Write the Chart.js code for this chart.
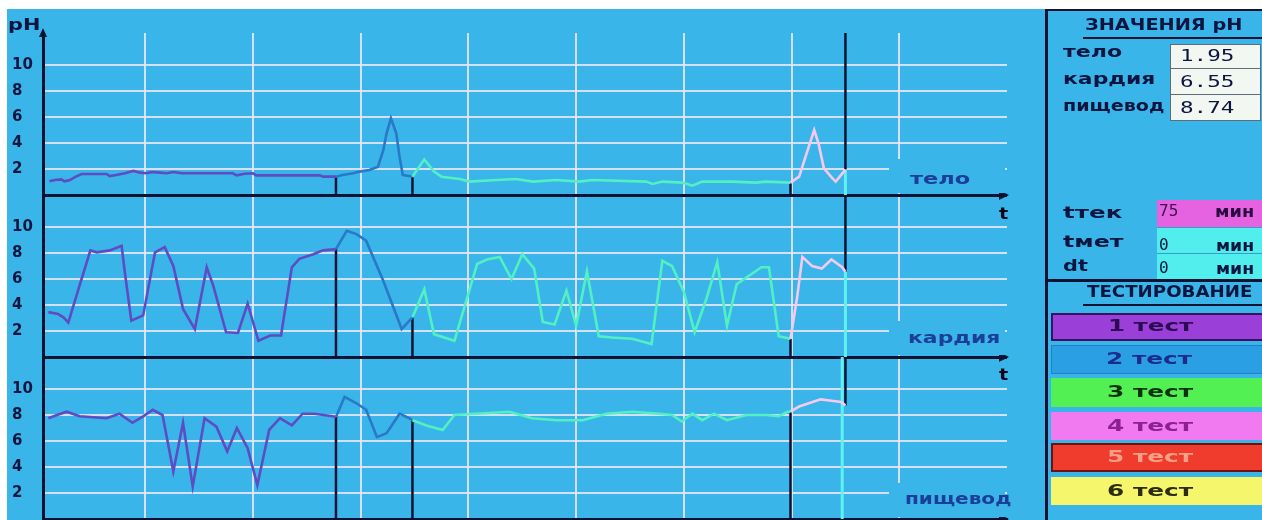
<!DOCTYPE html>
<html lang="ru">
<head>
<meta charset="utf-8">
<title>pH-мониторинг</title>
<script src="https://cdn.jsdelivr.net/npm/chart.js@4.4.1/dist/chart.umd.min.js"></script>
<style>
  html, body { margin:0; padding:0; width:1262px; height:520px; overflow:hidden; background:#ffffff; }
  #screen { position:absolute; left:7px; top:9px; width:1255px; height:511px; background:#3ab5e9; }
  #plot { position:absolute; left:0; top:0; }
  .lbl { position:absolute; font-family:'DejaVu Sans', sans-serif; font-weight:bold; font-size:15px;
         line-height:16px; white-space:nowrap; color:#0c1440; transform-origin:0 50%; }
  .big { font-size:16px; }
  .mono { font-family:'DejaVu Sans Mono', monospace; font-weight:normal; font-size:16px; }
  .chan { color:#1c3d98; }
  .cover { position:absolute; left:889px; width:116px; background:#3ab5e9; }
  .rule { position:absolute; background:#0b1232; }
  .box { position:absolute; box-sizing:border-box; }
  .btn { position:absolute; left:1051px; width:215px; box-sizing:border-box; }
</style>
</head>
<body>
<div id="screen"></div>
<canvas id="plot" width="1262" height="520"></canvas>

<!-- channel captions sit on a patch of screen colour that hides the grid under them -->
<div class="cover" id="coverTelo"></div>
<div class="cover" id="coverKardia"></div>
<div class="cover" id="coverPish"></div>

<div class="lbl" style="left:8px; top:17px;" data-w="32">pH</div>
<div class="lbl" style="left:999px; top:206px; color:#05081a;" data-w="9">t</div>
<div class="lbl" style="left:999px; top:367px; color:#05081a;" data-w="9">t</div>
<div class="lbl chan" style="left:910px; top:171px;" data-w="60">тело</div>
<div class="lbl chan" style="left:908px; top:330px;" data-w="92">кардия</div>
<div class="lbl chan" style="left:905px; top:491px;" data-w="107">пищевод</div>

<!-- side panel -->
<div class="rule" style="left:1045px; top:9px; width:3px; height:511px;"></div>
<div class="rule" style="left:1045px; top:9px; width:217px; height:2px;"></div>
<div class="lbl big" style="left:1085px; top:17px;" data-w="158">ЗНАЧЕНИЯ pH</div>
<div class="rule" style="left:1083px; top:37px; width:179px; height:2px;"></div>

<div class="lbl" style="left:1063px; top:44px;" data-w="59">тело</div>
<div class="lbl" style="left:1063px; top:71px;" data-w="92">кардия</div>
<div class="lbl" style="left:1063px; top:98px;" data-w="102">пищевод</div>
<div class="box" style="left:1170px; top:44px; width:91px; height:25px; background:#f3f7f2; border:1.5px solid #5d6d78;"></div>
<div class="box" style="left:1170px; top:68px; width:91px; height:27px; background:#f3f7f2; border:1.5px solid #5d6d78;"></div>
<div class="box" style="left:1170px; top:94px; width:91px; height:27px; background:#f3f7f2; border:1.5px solid #5d6d78;"></div>
<div class="lbl mono" id="valTelo" style="left:1180px; top:48px;" data-w="55"></div>
<div class="lbl mono" id="valKardia" style="left:1180px; top:74px;" data-w="55"></div>
<div class="lbl mono" id="valPish" style="left:1180px; top:100px;" data-w="55"></div>

<div class="box" style="left:1157px; top:200px; width:105px; height:27px; background:#e563e0;"></div>
<div class="box" style="left:1157px; top:227px; width:105px; height:26px; background:#52eeee; border-top:1px solid #3a9ccc;"></div>
<div class="box" style="left:1157px; top:253px; width:105px; height:26px; background:#52eeee; border-top:1px solid #3a9ccc;"></div>
<div class="lbl" style="left:1063px; top:205px;" data-w="59">tтек</div>
<div class="lbl" style="left:1063px; top:234px;" data-w="60">tмет</div>
<div class="lbl" style="left:1063px; top:258px;" data-w="25">dt</div>
<div class="lbl mono" id="valTime" style="left:1159px; top:203px; color:#3a1050;" data-w="19"></div>
<div class="lbl" style="left:1215px; top:204px; color:#2a0a40;" data-w="39">мин</div>
<div class="lbl mono" style="left:1159px; top:237px;" data-w="10">0</div>
<div class="lbl" style="left:1216px; top:238px;" data-w="38">мин</div>
<div class="lbl mono" style="left:1159px; top:260px;" data-w="10">0</div>
<div class="lbl" style="left:1216px; top:261px;" data-w="38">мин</div>

<div class="rule" style="left:1046px; top:279px; width:216px; height:3px;"></div>
<div class="lbl big" style="left:1087px; top:284px;" data-w="166">ТЕСТИРОВАНИЕ</div>
<div class="rule" style="left:1083px; top:304px; width:179px; height:2px;"></div>

<div class="btn" style="top:313px; height:28px; background:#9a3fd8; border:2px solid #3a1060;"></div>
<div class="btn" style="top:345px; height:29px; background:#2b9fe4; border:1px solid #2580c0;"></div>
<div class="btn" style="top:378px; height:29px; background:#52f052;"></div>
<div class="btn" style="top:412px; height:28px; background:#f27af0;"></div>
<div class="btn" style="top:443px; height:29px; background:#f03c2c; border:2px solid #701010;"></div>
<div class="btn" style="top:477px; height:28px; background:#f6f66c;"></div>
<div class="lbl" style="left:1108px; top:318px; color:#2a0c52;" data-w="85">1 тест</div>
<div class="lbl" style="left:1106px; top:351px; color:#1c2c8c;" data-w="86">2 тест</div>
<div class="lbl" style="left:1107px; top:384px; color:#0c300c;" data-w="86">3 тест</div>
<div class="lbl" style="left:1107px; top:418px; color:#8c2090;" data-w="86">4 тест</div>
<div class="lbl" style="left:1107px; top:449px; color:#f7a088;" data-w="86">5 тест</div>
<div class="lbl" style="left:1107px; top:483px; color:#2c2c12;" data-w="86">6 тест</div>

<script>
// ---- recording: minutes since start and pH for each probe ----
const elapsedMin = 75;                       // current time cursor
const testEnds = [27.7, 34.8, 69.9];         // ends of tests 1..3
const testLineColors = ['#5e4cc2', '#2a78c8', '#52f0c2', '#f5c9f1'];
const phTicks = [0, 2, 4, 6, 8, 10];
const gridMinutes = [10, 20, 30, 40, 50, 60, 70, 80];

const teloMin = [1.1, 1.6, 2.2, 2.5, 3.0, 3.5, 4.1, 6.4, 6.7, 7.3, 8.1, 8.9, 9.5, 10.1, 10.6, 11.3, 12.0, 12.6, 13.4, 15.1, 18.1, 18.5, 19.2, 20.0, 20.3, 26.2, 26.5, 27.7,
  28.3, 29.3, 29.9, 30.8, 31.6, 32.1, 32.4, 32.8, 33.3, 33.6, 33.9, 34.8,
  35.9, 36.8, 37.5, 39.2, 40.1, 42.6, 44.4, 46.0, 48.1, 50.3, 51.5, 56.5, 57.1, 58.0, 59.9, 60.8, 61.7, 64.5, 66.7, 67.6, 69.9,
  70.7, 71.3, 72.1, 72.5, 73.0, 73.8, 74.1, 75];
const teloPH = [1.05, 1.15, 1.2, 1.05, 1.15, 1.4, 1.62, 1.62, 1.46, 1.54, 1.67, 1.85, 1.72, 1.67, 1.77, 1.72, 1.67, 1.77, 1.67, 1.67, 1.67, 1.51, 1.64, 1.67, 1.51, 1.51, 1.41, 1.41,
  1.54, 1.67, 1.8, 1.92, 2.18, 3.46, 4.74, 5.9, 4.74, 2.95, 1.54, 1.41,
  2.74, 1.8, 1.41, 1.23, 1.03, 1.15, 1.23, 1.03, 1.15, 1.03, 1.15, 1.03, 0.85, 1.03, 0.95, 0.72, 1.03, 1.03, 0.95, 1.03, 0.95,
  1.41, 2.95, 5.0, 3.97, 2.05, 1.28, 1.03, 1.95];

const kardiaMin = [1.0, 1.9, 2.4, 2.85, 3.9, 4.9, 5.5, 6.7, 7.8, 8.1, 8.7, 9.8, 10.9, 11.8, 12.6, 13.5, 14.6, 15.7, 16.3, 17.5, 18.6, 19.5, 20.5, 21.6, 22.6, 23.6, 24.3, 25.6, 26.5, 27.7,
  28.7, 29.6, 30.5, 32.1, 33.8, 34.8,
  35.9, 36.8, 38.7, 40.8, 41.7, 42.9, 44.0, 45.0, 46.1, 46.9, 48.0, 49.1, 50.0, 51.0, 52.1, 53.3, 55.2, 57.0, 58.0, 58.9, 60.0, 61.0, 62.1, 63.1, 64.0, 64.9, 67.2, 67.9, 68.8, 69.9,
  70.5, 71.0, 71.9, 72.8, 73.7, 74.7, 75];
const kardiaPH = [3.45, 3.3, 3.05, 2.65, 5.5, 8.2, 8.05, 8.2, 8.55, 6.5, 2.8, 3.2, 8.05, 8.45, 7.0, 3.7, 2.15, 6.9, 5.5, 1.9, 1.85, 4.1, 1.25, 1.65, 1.65, 6.9, 7.55, 7.9, 8.2, 8.3,
  9.7, 9.45, 8.95, 5.85, 2.15, 3.05,
  5.2, 1.75, 1.25, 7.15, 7.5, 7.7, 6.0, 7.9, 6.8, 2.7, 2.5, 5.1, 2.4, 6.6, 1.6, 1.5, 1.4, 1.0, 7.4, 7.0, 5.0, 1.9, 4.5, 7.3, 2.4, 5.6, 6.9, 6.9, 1.6, 1.4,
  4.5, 7.7, 7.0, 6.8, 7.5, 6.9, 6.55];

const pishMin = [1.0, 1.8, 2.7, 3.9, 6.4, 7.6, 8.8, 9.8, 10.7, 11.6, 12.6, 13.5, 14.4, 15.5, 16.6, 17.6, 18.5, 19.5, 20.4, 21.5, 22.5, 23.6, 24.6, 25.7, 27.4, 27.7,
  28.5, 29.6, 30.5, 31.5, 32.4, 33.6, 34.5, 34.8,
  36.1, 37.6, 38.7, 40.7, 43.8, 45.9, 48.2, 50.6, 52.8, 55.2, 57.7, 58.9, 59.8, 60.8, 61.7, 62.8, 64.0, 65.8, 67.6, 68.8, 69.6, 69.9,
  70.7, 71.6, 72.7, 73.7, 74.6, 75];
const pishPH = [7.75, 8.0, 8.25, 7.9, 7.75, 8.1, 7.4, 7.9, 8.4, 8.0, 3.65, 7.4, 2.5, 7.75, 7.1, 5.2, 7.0, 5.45, 2.6, 6.85, 7.75, 7.2, 8.1, 8.1, 7.9, 7.85,
  9.4, 8.9, 8.4, 6.3, 6.6, 8.1, 7.75, 7.6,
  7.2, 6.85, 8.0, 8.1, 8.25, 7.75, 7.6, 7.6, 8.1, 8.25, 8.1, 8.0, 7.5, 8.1, 7.6, 8.1, 7.6, 8.0, 8.0, 7.9, 8.25, 8.25,
  8.65, 8.9, 9.2, 9.1, 9.0, 8.74];

// ---- drawing ----
const PH_MAX = 12.46;          // visible pH span of one strip
const MIN_START = 0.5, MIN_END = 90;
const AXIS = '#0b1232';
const GRID = 'rgba(236,230,246,0.88)';
const CURSOR_CYAN = '#5ff2f0';

const channels = [
  { axis: 'yTelo',   t: teloMin,   ph: teloPH,   out: 'valTelo',   cover: 'coverTelo',   cyanFull: false },
  { axis: 'yKardia', t: kardiaMin, ph: kardiaPH, out: 'valKardia', cover: 'coverKardia', cyanFull: false },
  { axis: 'yPish',   t: pishMin,   ph: pishPH,   out: 'valPish',   cover: 'coverPish',   cyanFull: true }
];

function testOf(minute) {
  for (let i = 0; i < testEnds.length; i++) if (minute <= testEnds[i] + 1e-6) return i;
  return testEnds.length;
}
function valueAt(ch, minute) { return ch.ph[ch.t.indexOf(minute)]; }
function vline(axis, x, y0, y1, color, width, order) {
  return { yAxisID: axis, data: [{ x, y: y0 }, { x, y: y1 }], borderColor: color, borderWidth: width,
           pointRadius: 0, order, borderCapStyle: 'butt' };
}

const datasets = [];
channels.forEach(ch => {
  datasets.push({
    yAxisID: ch.axis,
    data: ch.t.map((m, i) => ({ x: m, y: ch.ph[i] })),
    borderColor: testLineColors[0],
    borderWidth: 2.6,
    pointRadius: 0,
    tension: 0,
    order: 0,
    segment: { borderColor: c => testLineColors[testOf((c.p0.parsed.x + c.p1.parsed.x) / 2)] }
  });
  // end-of-test markers dropped from the trace to the strip baseline
  testEnds.forEach(e => datasets.push(vline(ch.axis, e, 0, valueAt(ch, e), AXIS, 2.5, 1)));
  // time cursor: dark above the current reading, cyan below it
  const now = valueAt(ch, elapsedMin);
  datasets.push(vline(ch.axis, elapsedMin, now, PH_MAX, AXIS, 2.5, 2));
  if (ch.cyanFull) {
    // the cyan trace runs on through the whole lowest strip, just left of the cursor
    datasets.push(vline(ch.axis, elapsedMin - 0.3, 0, PH_MAX, CURSOR_CYAN, 3, 1));
  } else {
    datasets.push(vline(ch.axis, elapsedMin, 0, now, CURSOR_CYAN, 3, 1));
  }
  document.getElementById(ch.out).textContent = ch.ph[ch.ph.length - 1].toFixed(2);
});
document.getElementById('valTime').textContent = String(elapsedMin);

function phAxis(weight) {
  return {
    type: 'linear', position: 'left', stack: 'strips', stackWeight: 1, weight,
    min: 0, max: PH_MAX,
    afterBuildTicks: s => { s.ticks = phTicks.map(v => ({ value: v })); },
    afterFit: s => { s.width = 31; s.paddingTop = 0; s.paddingBottom = 0; },
    grid: {
      drawTicks: false,
      color: c => (c.tick && c.tick.value === 0) ? AXIS : GRID,
      lineWidth: c => (c.tick && c.tick.value === 0) ? 3 : 2
    },
    border: { display: true, color: AXIS, width: 3 },
    ticks: {
      autoSkip: false,
      crossAlign: 'far', padding: 0, color: '#0e1640',
      font: { family: 'DejaVu Sans', weight: 'bold', size: 15 },
      callback: v => (v === 0 ? '' : String(v))
    }
  };
}

const axisArrows = {
  id: 'axisArrows',
  afterDraw(chart) {
    const { ctx, chartArea: a, scales } = chart;
    ctx.save();
    ctx.fillStyle = AXIS;
    channels.forEach(ch => {
      const y = scales[ch.axis].getPixelForValue(0);
      ctx.beginPath();
      ctx.moveTo(a.right + 2, y);
      ctx.lineTo(a.right - 8, y - 5);
      ctx.lineTo(a.right - 8, y + 5);
      ctx.closePath();
      ctx.fill();
    });
    ctx.beginPath();
    ctx.moveTo(a.left, a.top - 5);
    ctx.lineTo(a.left - 4, a.top + 4);
    ctx.lineTo(a.left + 4, a.top + 4);
    ctx.closePath();
    ctx.fill();
    ctx.restore();
  }
};

const chart = new Chart(document.getElementById('plot'), {
  type: 'line',
  data: { datasets },
  options: {
    responsive: false,
    animation: false,
    events: [],
    layout: { padding: { left: 12, top: 33, right: 255, bottom: 1 } },
    plugins: { legend: { display: false }, tooltip: { enabled: false }, title: { display: false } },
    scales: {
      x: {
        type: 'linear', position: 'bottom', min: MIN_START, max: MIN_END,
        afterBuildTicks: s => { s.ticks = gridMinutes.map(v => ({ value: v })); },
        afterFit: s => { s.height = 0; s.paddingLeft = 0; s.paddingRight = 0; },
        grid: { color: GRID, lineWidth: 2, drawTicks: false },
        border: { display: true, color: AXIS, width: 3 },
        ticks: { display: false, autoSkip: false }
      },
      yPish: phAxis(1),
      yKardia: phAxis(2),
      yTelo: phAxis(3)
    }
  },
  plugins: [axisArrows]
});

// caption patches: from just above the 2-line down to just above each baseline
channels.forEach(ch => {
  const s = chart.scales[ch.axis];
  const top = Math.round(s.getPixelForValue(2.8));
  const bottom = Math.round(s.getPixelForValue(0)) - 2;
  const el = document.getElementById(ch.cover);
  el.style.top = top + 'px';
  el.style.height = (bottom - top) + 'px';
});

// stretch the wide screen lettering to its measured widths
function fitLabels() {
  document.querySelectorAll('.lbl[data-w]').forEach(el => {
    el.style.transform = 'none';
    const w = el.offsetWidth;
    if (w > 0) el.style.transform = 'scaleX(' + (parseFloat(el.dataset.w) / w).toFixed(3) + ')';
  });
}
fitLabels();
if (document.fonts) document.fonts.ready.then(fitLabels);
</script>
</body>
</html>
